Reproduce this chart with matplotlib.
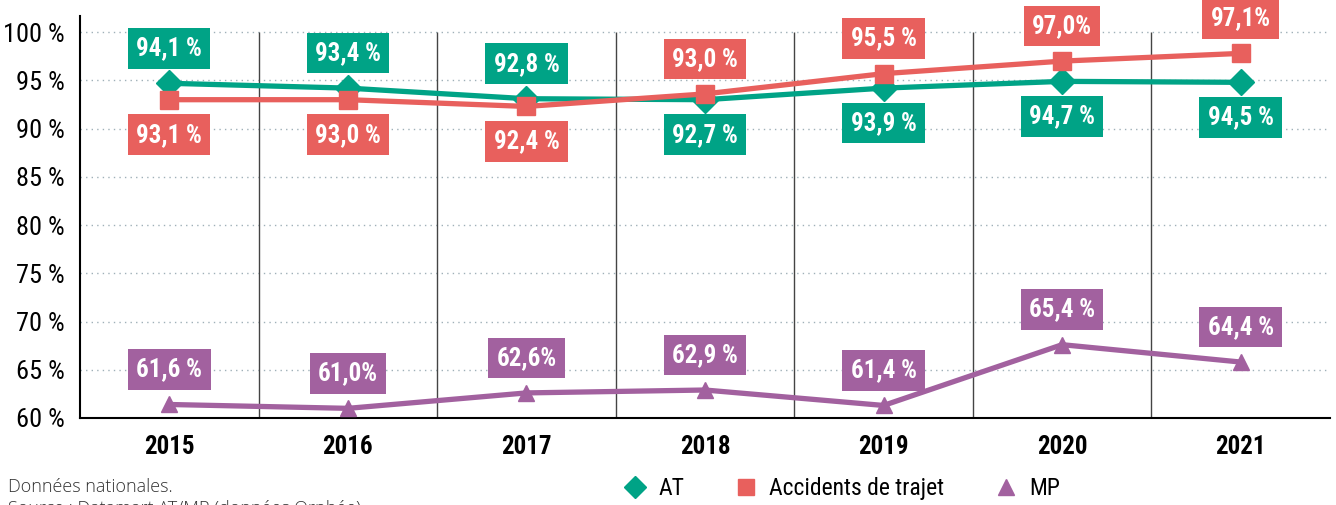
import matplotlib.pyplot as plt
from matplotlib.lines import Line2D

years = ['2015', '2016', '2017', '2018', '2019', '2020', '2021']

# positions (the printed labels differ slightly)
at_vals = [94.7, 94.2, 93.1, 93.0, 94.2, 94.9, 94.8]
trajet_vals = [93.0, 93.0, 92.3, 93.6, 95.7, 97.0, 97.8]
mp_vals = [61.4, 61.0, 62.6, 62.9, 61.3, 67.6, 65.8]

at_labels = ['94,1 %', '93,4 %', '92,8 %', '92,7 %', '93,9 %', '94,7 %', '94,5 %']
trajet_labels = ['93,1 %', '93,0 %', '92,4 %', '93,0 %', '95,5 %', '97,0%', '97,1%']
mp_labels = ['61,6 %', '61,0%', '62,6%', '62,9 %', '61,4 %', '65,4 %', '64,4 %']

yticks = [60, 65, 70, 75, 80, 85, 90, 95, 100]

GREEN = '#00a386'
RED = '#e8605d'
PURPLE = '#a2619f'
NARROW = ['Roboto Condensed', 'DejaVu Sans']

fig = plt.figure(figsize=(13.36, 5.05), dpi=100)
ax = fig.add_axes([0.0599, 0.1723, 0.9356, 0.7957])

x = list(range(len(years)))
ax.set_xlim(-0.5, 6.5)
ax.set_ylim(60, 101.66)

# grid
for y in yticks[1:]:
    ax.axhline(y, color='#9fb0b8', lw=1, ls=(0, (1, 3)), zorder=0)
ax.vlines([i + 0.5 for i in range(6)], 60, 100, color='#444444', lw=1, zorder=0)

series = [
    (at_vals, at_labels, GREEN, 'D', 13, [1, 1, 1, -1, -1, -1, -1]),
    (trajet_vals, trajet_labels, RED, 's', 13, [-1, -1, -1, 1, 1, 1, 1]),
    (mp_vals, mp_labels, PURPLE, '^', 12, [1, 1, 1, 1, 1, 1, 1]),
]
for vals, labels, col, mk, ms, side in series:
    ax.plot(x, vals, color=col, lw=3.8, marker=mk, ms=ms, zorder=3)
    for xi, v, lab, s in zip(x, vals, labels, side):
        ax.annotate(lab, (xi, v), xytext=(0, 35 * s), textcoords='offset pixels',
                    ha='center', va='center', color='white', fontsize=18,
                    fontweight='bold', family=NARROW, zorder=5,
                    bbox=dict(boxstyle='square,pad=0.33', fc=col, ec='none'))

ax.set_xticks(x)
ax.set_xticklabels(years, fontsize=18, fontweight='bold', family=NARROW)
ax.set_yticks(yticks)
ax.set_yticklabels([f'{t} %' for t in yticks], fontsize=19, family=NARROW)
ax.tick_params(axis='both', length=0)
ax.tick_params(axis='y', pad=11)
ax.tick_params(axis='x', pad=12)

for side in ['top', 'right']:
    ax.spines[side].set_visible(False)
ax.spines['left'].set_linewidth(1.5)
ax.spines['bottom'].set_linewidth(1.5)

handles = [
    Line2D([], [], ls='none', marker='D', ms=11, color=GREEN),
    Line2D([], [], ls='none', marker='s', ms=11, color=RED),
    Line2D([], [], ls='none', marker='^', ms=12, color=PURPLE),
]
fig.legend(handles, ['AT', 'Accidents de trajet', 'MP'], loc='center',
           bbox_to_anchor=(0.629, 0.032), ncol=3, frameon=False,
           prop={'family': NARROW, 'size': 17}, handletextpad=0.4,
           columnspacing=2.0, handlelength=1.2)

fig.text(0.006, 0.036, 'Données nationales.', fontsize=13, family='Open Sans',
         fontweight='light', color='#333333', va='center')
fig.text(0.006, -0.008, 'Source : Datamart AT/MP (données Orphée).', fontsize=13,
         family='Open Sans', fontweight='light', color='#333333', va='center')

fig.savefig('out.png', dpi=100)
